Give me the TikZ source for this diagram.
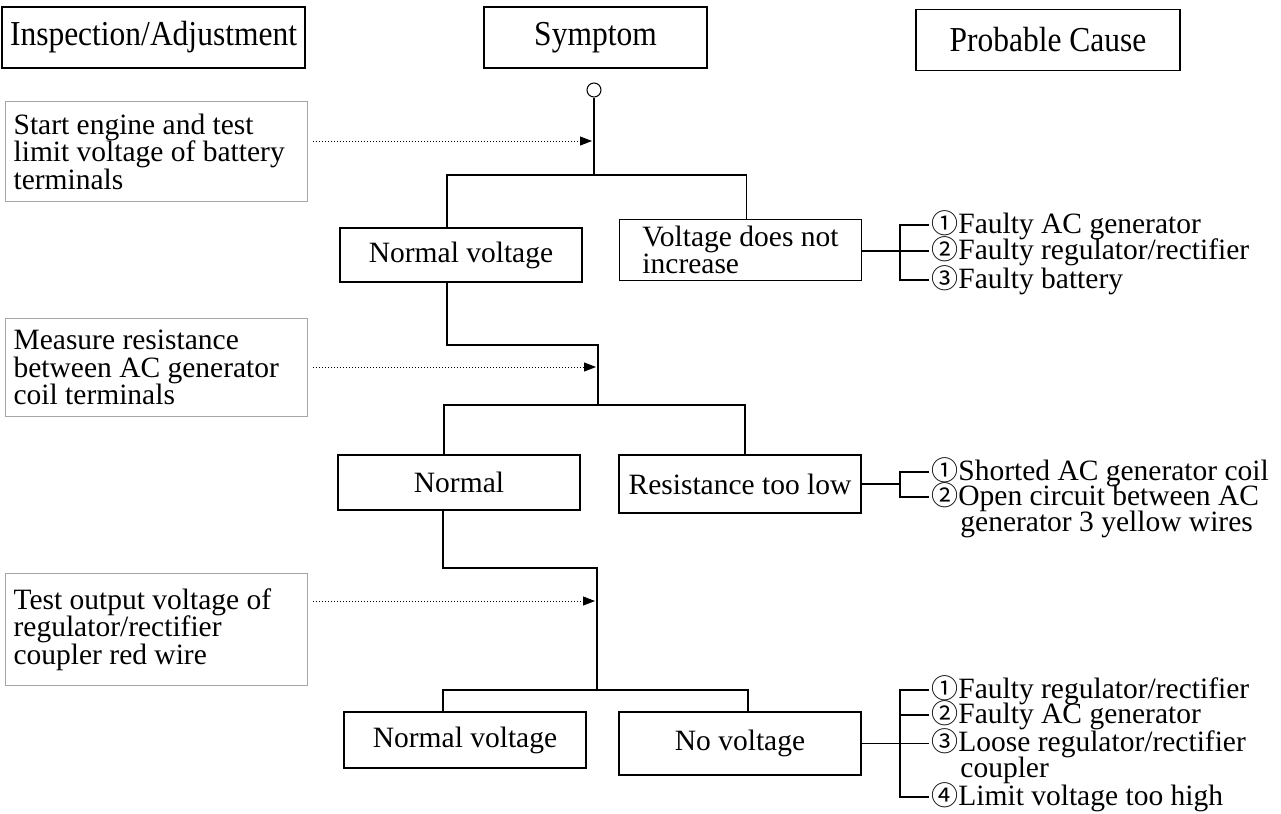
\documentclass[tikz,border=0pt]{standalone}
\usepackage{fontspec}
\setmainfont{Liberation Serif}
\newfontfamily\headfont[FakeStretch=0.9]{Liberation Serif}
\newfontfamily\symfont{Noto Sans CJK SC}
\usepackage{tikz}
\usetikzlibrary{arrows.meta, positioning, calc}

\newcommand{\cnum}[1]{{\symfont\fontsize{13.5}{13.5}\selectfont #1}}

\tikzset{
  headbox/.style={draw, line width=0.8pt, minimum height=30.5pt, font=\headfont\fontsize{17.5}{20}\selectfont},
  inspbox/.style={draw=gray!70, line width=0.6pt, anchor=north west, text width=143pt, inner xsep=4pt, align=left,
    execute at begin node={\spaceskip=0pt\xspaceskip=0pt}},
  symbox/.style={draw, line width=0.6pt, minimum width=121pt, align=left,
    execute at begin node={\spaceskip=0pt\xspaceskip=0pt}},
  cause/.style={anchor=west, inner xsep=1pt, inner ysep=0pt},
  link/.style={line width=0.6pt},
  flow/.style={densely dotted, line width=0.5pt, -{Triangle[length=6pt,width=4.5pt]}, shorten >=1pt},
}

\begin{document}
\begin{tikzpicture}[x=0.5pt, y=-0.5pt, font=\fontsize{14.75}{13.75}\selectfont]
    \useasboundingbox (0,0) rectangle (1281,814);

    % column heads
    \node[headbox, minimum width=151.5pt] (h1) at (153.5,37.5) {Inspection/Adjustment};
    \node[headbox, minimum width=111.5pt] (h2) at (595.5,37.5) {Symptom};
    \node[headbox, minimum width=132pt] (h3) at (1048,40) {Probable Cause};

    % inspection steps
    \node[inspbox, minimum height=50pt] (insp1) at (5,101) {Start engine and test\\limit voltage of battery\\terminals};
    \node[inspbox, minimum height=49pt] (insp2) at (5,318) {Measure resistance\\between AC generator\\coil terminals};
    \node[inspbox, minimum height=56pt] (insp3) at (5,573) {Test output voltage of\\regulator/rectifier\\coupler red wire};

    % symptoms
    \node[circle, draw, minimum size=7pt, inner sep=0pt, line width=0.5pt] (start) at (594,90) {};
    \node[symbox, minimum height=27pt] (nv1) at (461,255) {Normal voltage};
    \node[symbox, minimum height=30pt] (vd) at (740.5,250) {Voltage does not\\increase};
    \node[symbox, minimum height=27.5pt] (nb) at (459,482.5) {Normal};
    \node[symbox, minimum height=29pt] (rtl) at (740,484) {Resistance too low};
    \node[symbox, minimum height=28pt] (nv2) at (465,740) {Normal voltage};
    \node[symbox, minimum height=31.5pt] (nov) at (740,743.5) {No voltage};

    % causes
    \node[cause] (c11) at (929,225) {\cnum{①}Faulty AC generator};
    \node[cause] (c12) at (929,251) {\cnum{②}Faulty regulator/rectifier};
    \node[cause] (c13) at (929,280) {\cnum{③}Faulty battery};
    \node[cause] (c21) at (929,472) {\cnum{①}Shorted AC generator coil};
    \node[cause] (c22) at (929,497) {\cnum{②}Open circuit between AC};
    \node[cause] (c23) at (958,524) {generator 3 yellow wires};
    \node[cause] (c31) at (929,690) {\cnum{①}Faulty regulator/rectifier};
    \node[cause] (c32) at (929,715) {\cnum{②}Faulty AC generator};
    \node[cause] (c33) at (929,743.5) {\cnum{③}Loose regulator/rectifier};
    \node[cause] (c34) at (958,770) {coupler};
    \node[cause] (c35) at (929,797) {\cnum{④}Limit voltage too high};

    % trunk points
    \coordinate (t1) at (594,141);
    \coordinate (j1) at (594,175);
    \coordinate (e2) at (598,345);
    \coordinate (t2) at (598,367);
    \coordinate (j2) at (598,405);
    \coordinate (e3) at (597,568);
    \coordinate (t3) at (597,601);
    \coordinate (j3) at (597,690);
    \coordinate (k1) at (900,251);
    \coordinate (k2) at (900,484);
    \coordinate (k3) at (900,743.5);

    % tree
    \draw[link] (start) -- (j1);
    \draw[link] ([xshift=-7pt]nv1.north) |- (j1) -| ([xshift=3pt]vd.north);
    \draw[link] ([xshift=-7pt]nv1.south) |- (e2) -- (j2);
    \draw[link] ([xshift=-7.5pt]nb.north) |- (j2) -| ([xshift=2.5pt]rtl.north);
    \draw[link] ([xshift=-8pt]nb.south) |- (e3) -- (j3);
    \draw[link] ([xshift=-11pt]nv2.north) |- (j3) -| ([xshift=4pt]nov.north);

    % steps to symptoms
    \draw[flow] ([xshift=2.5pt]insp1.east |- t1) -- (t1);
    \draw[flow] ([xshift=2.5pt]insp2.east |- t2) -- (t2);
    \draw[flow] ([xshift=2.5pt]insp3.east |- t3) -- (t3);

    % symptoms to causes
    \draw[link] (vd.east |- k1) -- (c12.west);
    \draw[link] (c11.west) -| (k1) |- (c13.west);
    \draw[link] (rtl.east) -- (k2);
    \draw[link] (c21.west) -| (k2) |- (c22.west);
    \draw[link] (nov.east) -- (c33.west);
    \draw[link] (c31.west) -| (k3) |- (c35.west);
    \draw[link] (c32.west) -- (c32.west -| k3);
\end{tikzpicture}
\end{document}
